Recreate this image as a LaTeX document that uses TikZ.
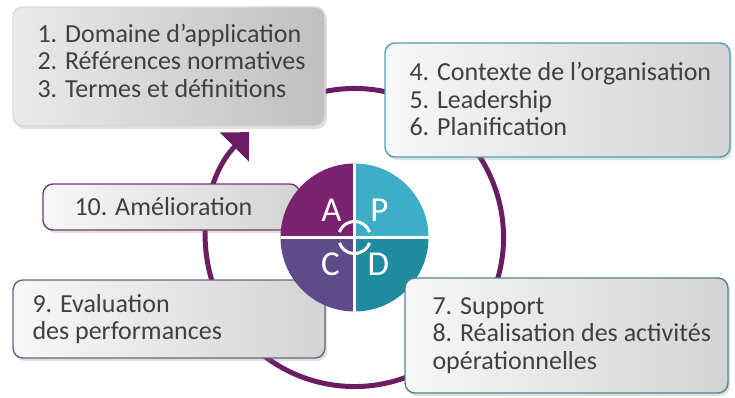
\documentclass[tikz,border=0pt]{standalone}
\usepackage{fontspec}
\setmainfont{Carlito}
\usetikzlibrary{arrows.meta,positioning,shadows}
\definecolor{loop}{HTML}{6B1D63}
\definecolor{qa}{HTML}{7A2170}
\definecolor{qp}{HTML}{3CAFC6}
\definecolor{qc}{HTML}{5E4B8B}
\definecolor{qd}{HTML}{1F8BA0}
\definecolor{ink}{HTML}{404040}
\tikzset{panel/.style={rounded corners=10pt, line width=1.4pt, left color=black!3, right color=black!17,
    drop shadow={shadow xshift=2pt, shadow yshift=-3pt, opacity=0.25}},
  itm/.style={font=\fontsize{26}{27.5}\selectfont, text=ink, align=left, inner sep=0pt, anchor=west},
  lbl/.style={font=\fontsize{35}{35}\selectfont, text=white, inner sep=0pt},
  cyc/.style={-{Triangle[length=21pt, width=40pt]}, line width=5pt, draw=loop}}

\begin{document}
\begin{tikzpicture}[x=1pt, y=1pt]
  \useasboundingbox (0,0) rectangle (735,397);
  \coordinate (pdca) at (354.5,159.5);
  % big improvement loop
  \draw[cyc] ([shift={(110:149)}]pdca) arc[start angle=110, end angle=-225, radius=149];
  % clause boxes
  \node[panel, draw=black!15, left color=black!8, right color=black!25, minimum width=312pt, minimum height=119pt] (b1) at (169,330.5) {};
  \node[panel, draw=qp!70!gray, minimum width=345pt, minimum height=114pt] (b2) at (557.5,297) {};
  \node[panel, draw=qc!60!gray, minimum width=312pt, minimum height=78pt] (b9) at (169,78) {};
  \node[panel, draw=loop!70!gray, minimum width=257pt, minimum height=46pt] (b10) at (171.5,190) {};
  \node[itm] (t1) at ([xshift=25, yshift=6]b1.west) {1. Domaine d’application\\2. Références normatives\\3. Termes et définitions};
  \node[itm] (t2) at ([xshift=25, yshift=1]b2.west) {4. Contexte de l’organisation\\5. Leadership\\6. Planification};
  \node[itm] (t9) at ([xshift=20]b9.west) {9. Evaluation\\des performances};
  \node[itm] (t10) at ([xshift=32]b10.west) {10. Amélioration};
  % PDCA disc
  \foreach \c/\a in {qp/0, qa/90, qc/180, qd/270}
    \fill[\c] (pdca) -- ++(\a:74) arc[start angle=\a, delta angle=90, radius=74] -- cycle;
  \draw[white, line width=3pt] ([xshift=-74]pdca) -- ([xshift=74]pdca);
  \draw[white, line width=3pt] ([yshift=-74]pdca) -- ([yshift=74]pdca);
  \draw[white, line width=3pt] ([shift={(160:16)}]pdca) arc[start angle=160, end angle=20, radius=16];
  \draw[white, line width=3pt] ([shift={(200:16)}]pdca) arc[start angle=200, end angle=340, radius=16];
  \node[lbl] (la) at ([shift={(-23,27)}]pdca) {A};
  \node[lbl] (lp) at ([shift={(25,27)}]pdca) {P};
  \node[lbl] (lc) at ([shift={(-24,-27)}]pdca) {C};
  \node[lbl] (ld) at ([shift={(24,-27)}]pdca) {D};
  % last box sits over the disc
  \node[panel, draw=qd!50!gray, minimum width=323pt, minimum height=115pt] (b78) at (566.5,61.5) {};
  \node[itm] (t78) at ([xshift=28]b78.west) {7. Support\\8. Réalisation des activités\\opérationnelles};
\end{tikzpicture}
\end{document}
